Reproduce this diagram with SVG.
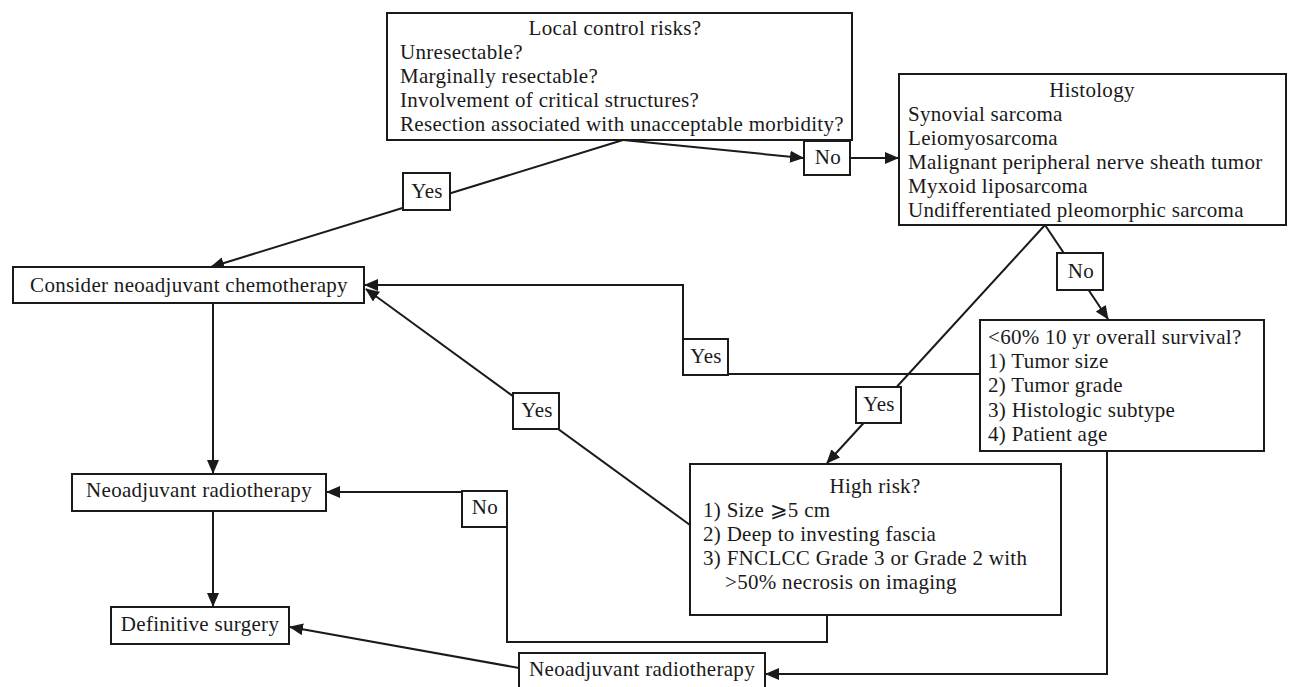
<svg xmlns="http://www.w3.org/2000/svg" width="1290" height="687" viewBox="0 0 1290 687">
<defs>
<style>
.box{fill:#fff;stroke:#1a1a1a;stroke-width:2}
.lbl{fill:#fff;stroke:#1a1a1a;stroke-width:2}
.t{font-family:"Liberation Serif","Times New Roman",serif;font-size:21px;letter-spacing:0.3px;fill:#1a1a1a}
.c{text-anchor:middle}
.ln{fill:none;stroke:#1a1a1a;stroke-width:2}
</style>
<marker id="ah" markerUnits="userSpaceOnUse" markerWidth="14" markerHeight="12" refX="13" refY="6" orient="auto">
<path d="M0,0 L14,6 L0,12 z" fill="#1a1a1a"/>
</marker>
</defs>
<rect width="1290" height="687" fill="#fff"/>
<g id="connectors">
<line class="ln" x1="623" y1="140" x2="211" y2="267" marker-end="url(#ah)"/>
<line class="ln" x1="623" y1="140" x2="803" y2="158" marker-end="url(#ah)"/>
<line class="ln" x1="850" y1="158" x2="898" y2="158" marker-end="url(#ah)"/>
<line class="ln" x1="213" y1="303" x2="213" y2="473" marker-end="url(#ah)"/>
<line class="ln" x1="213" y1="511" x2="213" y2="606" marker-end="url(#ah)"/>
<path class="ln" d="M980,374 L683,374 L683,285 L365,285" marker-end="url(#ah)"/>
<line class="ln" x1="690" y1="525" x2="366" y2="289" marker-end="url(#ah)"/>
<line class="ln" x1="1045" y1="225" x2="827" y2="463" marker-end="url(#ah)"/>
<line class="ln" x1="1045" y1="225" x2="1108" y2="319" marker-end="url(#ah)"/>
<path class="ln" d="M827,615 L827,642 L507,642 L507,492 L327,492" marker-end="url(#ah)"/>
<path class="ln" d="M1107,451 L1107,674 L766,674" marker-end="url(#ah)"/>
<line class="ln" x1="519" y1="668" x2="290" y2="627" marker-end="url(#ah)"/>
</g>
<g id="local-control">
<rect class="box" x="387" y="13" width="465" height="127"/>
<text class="t c" x="615" y="35">Local control risks?</text>
<text class="t" x="400" y="59">Unresectable?</text>
<text class="t" x="400" y="83">Marginally resectable?</text>
<text class="t" x="400" y="107">Involvement of critical structures?</text>
<text class="t" x="400" y="131">Resection associated with unacceptable morbidity?</text>
</g>
<g id="label-yes-1">
<rect class="lbl" x="403" y="173" width="47" height="37"/>
<text class="t c" x="427" y="198">Yes</text>
</g>
<g id="label-no-1">
<rect class="lbl" x="804" y="141" width="46" height="34"/>
<text class="t c" x="828" y="164">No</text>
</g>
<g id="histology">
<rect class="box" x="899" y="74" width="387" height="151"/>
<text class="t c" x="1092" y="97">Histology</text>
<text class="t" x="908" y="121">Synovial sarcoma</text>
<text class="t" x="908" y="145">Leiomyosarcoma</text>
<text class="t" x="908" y="169">Malignant peripheral nerve sheath tumor</text>
<text class="t" x="908" y="193">Myxoid liposarcoma</text>
<text class="t" x="908" y="217">Undifferentiated pleomorphic sarcoma</text>
</g>
<g id="consider-chemo">
<rect class="box" x="13" y="267" width="351" height="36"/>
<text class="t c" x="189" y="292">Consider neoadjuvant chemotherapy</text>
</g>
<g id="label-no-2">
<rect class="lbl" x="1057" y="253" width="46" height="37"/>
<text class="t c" x="1081" y="278">No</text>
</g>
<g id="survival">
<rect class="box" x="980" y="320" width="284" height="131"/>
<text class="t" x="988" y="344">&lt;60% 10 yr overall survival?</text>
<text class="t" x="988" y="368">1) Tumor size</text>
<text class="t" x="988" y="392">2) Tumor grade</text>
<text class="t" x="988" y="417">3) Histologic subtype</text>
<text class="t" x="988" y="441">4) Patient age</text>
</g>
<g id="label-yes-2">
<rect class="lbl" x="683" y="339" width="45" height="36"/>
<text class="t c" x="706" y="363">Yes</text>
</g>
<g id="label-yes-3">
<rect class="lbl" x="856" y="387" width="45" height="36"/>
<text class="t c" x="879" y="411">Yes</text>
</g>
<g id="label-yes-4">
<rect class="lbl" x="513" y="393" width="46" height="36"/>
<text class="t c" x="537" y="417">Yes</text>
</g>
<g id="high-risk">
<rect class="box" x="690" y="464" width="371" height="151"/>
<text class="t c" x="875" y="493">High risk?</text>
<text class="t" x="703" y="517">1) Size  ⩾5 cm</text>
<text class="t" x="703" y="541">2) Deep to investing fascia</text>
<text class="t" x="703" y="565">3) FNCLCC Grade 3 or Grade 2 with</text>
<text class="t" x="725" y="589">&gt;50% necrosis on imaging</text>
</g>
<g id="neo-radio-1">
<rect class="box" x="72" y="474" width="254" height="37"/>
<text class="t c" x="199" y="497">Neoadjuvant radiotherapy</text>
</g>
<g id="label-no-3">
<rect class="lbl" x="462" y="491" width="45" height="36"/>
<text class="t c" x="485" y="514">No</text>
</g>
<g id="definitive-surgery">
<rect class="box" x="111" y="607" width="178" height="37"/>
<text class="t c" x="200" y="631">Definitive surgery</text>
</g>
<g id="neo-radio-2">
<rect class="box" x="519" y="653" width="246" height="50"/>
<text class="t c" x="642" y="676">Neoadjuvant radiotherapy</text>
</g>
</svg>
